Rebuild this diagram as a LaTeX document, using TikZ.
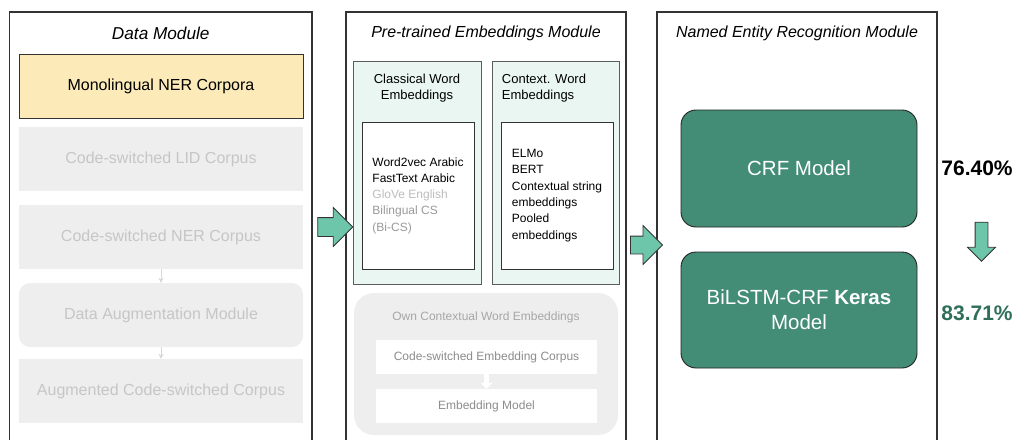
\documentclass[tikz,border=0pt]{standalone}
\usepackage{fontspec}
\setmainfont{Liberation Sans}
\usetikzlibrary{positioning, calc, arrows.meta, shapes.arrows}
\definecolor{lineDark}{gray}{0.2}
\definecolor{boxGray}{HTML}{EEEEEE}
\definecolor{textGray}{HTML}{C6C6C6}
\definecolor{cornYellow}{HTML}{FCEBB8}
\definecolor{mintFill}{HTML}{E9F6F2}
\definecolor{modelGreen}{HTML}{438C76}
\definecolor{scoreGreen}{HTML}{2F6E58}
\definecolor{arrowTeal}{HTML}{6DC6AA}
\definecolor{midGray}{HTML}{9A9A9A}
\definecolor{lightGray}{HTML}{BDBDBD}
\definecolor{ownText}{HTML}{A6A6A6}
\definecolor{embText}{HTML}{8C8C8C}

\begin{document}
\begin{tikzpicture}[x=1pt, y=-1pt,
    panel/.style={draw=lineDark, line width=1.2pt, minimum width=#1, minimum height=438pt, inner sep=0pt},
    title/.style={font=\fontsize{16}{19}\selectfont\itshape},
    corpus/.style={minimum width=284pt, minimum height=64pt, font=\fontsize{16}{19}\selectfont},
    greybox/.style={corpus, fill=boxGray, text=textGray},
    embbox/.style={draw=lineDark!80, line width=0.9pt, fill=mintFill, minimum width=128pt, minimum height=223pt},
    listbox/.style={draw=lineDark, line width=0.9pt, fill=white, minimum width=112pt, minimum height=147pt,
        align=left, inner sep=0pt, font=\fontsize{12}{16.3}\selectfont},
    ownbox/.style={fill=white, text=embText, minimum width=221pt, minimum height=34pt, font=\fontsize{12}{15}\selectfont},
    model/.style={draw=lineDark!70!black, line width=0.9pt, fill=modelGreen, text=white, rounded corners=15pt,
        minimum width=236pt, minimum height=117pt, align=center, font=\fontsize{20.5}{25}\selectfont},
    score/.style={font=\fontsize{21}{25}\selectfont\bfseries},
    bigarrow/.style={single arrow, draw=lineDark, line width=0.8pt, fill=arrowTeal, inner sep=#1},
    thinarrow/.style={draw=boxGray!80!gray, line width=0.8pt, -{Stealth[length=5pt, width=5pt]}}]

    \useasboundingbox (0,0) rectangle (1019,439);

    % Panels
    \node[panel=302.5pt] (datapanel) at (160.75,231) {};
    \node[panel=280pt] (embpanel) at (486,231) {};
    \node[panel=280pt] (nerpanel) at (797,231) {};
    \node[title, font=\fontsize{17.2}{20}\selectfont\itshape] (datatitle) at (160.75,33) {Data Module};
    \node[title] (embtitle) at (486,33) {Pre-trained Embeddings Module};
    \node[title] (nertitle) at (797,33) {Named Entity Recognition Module};

    % Data module
    \node[corpus, draw=lineDark, line width=1pt, fill=cornYellow] (mono) at (161,86.5) {Monolingual NER Corpora};
    \node[greybox] (lid) at (161,159) {Code-switched LID Corpus};
    \node[greybox] (csner) at (161,237) {Code-switched NER Corpus};
    \node[greybox, rounded corners=11pt] (augmod) at (161,315) {Data Augmentation Module};
    \node[greybox] (augcorp) at (161,391) {Augmented Code-switched Corpus};
    \draw[thinarrow] (csner) -- (augmod);
    \draw[thinarrow] (augmod) -- (augcorp);

    % Pre-trained embeddings
    \node[embbox] (classical) at (417,172.5) {};
    \node[embbox, minimum width=127pt] (contextual) at (555.5,172.5) {};
    \node[align=center, font=\fontsize{13}{16}\selectfont] (classtitle) at (417,88) {Classical Word\\Embeddings};
    \node[align=left, font=\fontsize{13}{16}\selectfont] (ctxtitle) at (544,88) {Context. Word\\Embeddings};
    \node[listbox] (classlist) at (418,195.5) {Word2vec Arabic\\FastText Arabic\\\textcolor{lightGray}{GloVe English}\\
        \textcolor{midGray}{Bilingual CS}\\\textcolor{midGray}{(Bi-CS)}};
    \node[listbox] (ctxlist) at (557,195.5) {ELMo\\BERT\\Contextual string\\embeddings\\Pooled\\embeddings};

    \node[fill=boxGray, rounded corners=20pt, minimum width=264pt, minimum height=142pt] (own) at (486,364) {};
    \node[text=ownText, font=\fontsize{12}{15}\selectfont] (owntitle) at (486,317) {Own Contextual Word Embeddings};
    \node[ownbox] (embcorp) at (486.5,357) {Code-switched Embedding Corpus};
    \node[ownbox] (embmodel) at (486.5,406) {Embedding Model};
    \draw[white, line width=5pt, -{Triangle[length=6pt, width=12pt]}] (embcorp) -- (embmodel);

    % NER models
    \node[model] (crf) at (799,168.5) {CRF Model};
    \node[model, minimum height=116pt] (bilstm) at (799,310) {BiLSTM-CRF \textbf{Keras}\\Model};
    \node[score] (crfscore) at (977,168) {76.40\%};
    \node[score, text=scoreGreen] (bilstmscore) at (977,313) {83.71\%};

    % Flow arrows
    \node[bigarrow=9pt, minimum height=35pt, single arrow head extend=10pt] (flowA) at (330.5,227) {};
    \node[bigarrow=8.5pt, minimum height=32pt, single arrow head extend=10.5pt] (flowB) at (642,245) {};
    \node[bigarrow=6pt, shape border rotate=270, minimum height=39pt, single arrow head extend=7.5pt] (flowC) at (981.5,238.5) {};
\end{tikzpicture}
\end{document}
